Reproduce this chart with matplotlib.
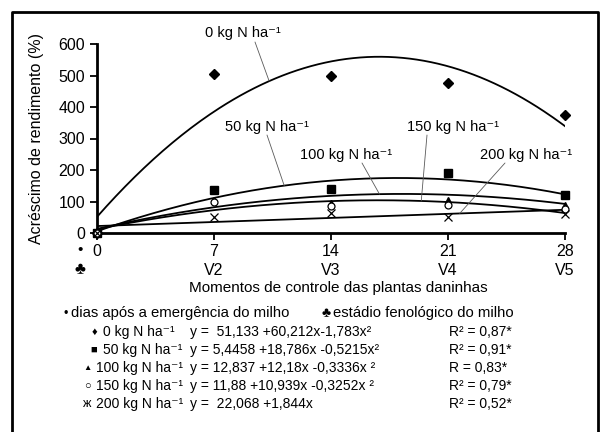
import numpy as np
import matplotlib
matplotlib.use("Agg")
import matplotlib.pyplot as plt
from matplotlib.lines import Line2D

plt.rcParams['font.family'] = ['Liberation Sans', 'DejaVu Sans']
plt.rcParams['mathtext.default'] = 'regular'

# data
days = [0, 7, 14, 21, 28]
stages = ['', 'V2', 'V3', 'V4', 'V5']
doses = ['0', '50', '100', '150', '200']
y_0 = [0, 505, 500, 475, 375]
y_50 = [0, 135, 140, 190, 120]
y_100 = [0, 105, 95, 105, 90]
y_150 = [0, 100, 85, 90, 75]
y_200 = [0, 50, 65, 50, 60]

# regression coefficients (a, b, c) -> y = a + b x + c x^2
coef_0 = [51.133, 60.212, -1.783]
coef_50 = [5.4458, 18.786, -0.5215]
coef_100 = [12.837, 12.18, -0.3336]
coef_150 = [11.88, 10.939, -0.3252]
coef_200 = [22.068, 1.844, 0.0]

equations = ['y =  51,133 +60,212x-1,783x\u00b2',
             'y = 5,4458 +18,786x -0,5215x\u00b2',
             'y = 12,837 +12,18x -0,3336x \u00b2',
             'y = 11,88 +10,939x -0,3252x \u00b2',
             'y =  22,068 +1,844x']
r2 = ['R\u00b2 = 0,87*', 'R\u00b2 = 0,91*', 'R = 0,83*', 'R\u00b2 = 0,79*', 'R\u00b2 = 0,52*']
legend_syms = ['\u2666', '\u25a0', '\u25b2', '\u25cb', '\u0436']
HA = 'ha\u207b\u00b9'

W, H = 600, 432
fig = plt.figure(figsize=(6, 4.32), dpi=100)


def px(x, y):
    return x / W, 1 - y / H


ax = fig.add_axes([97 / W, 1 - 233 / H, 468 / W, 189 / H])

series = [y_0, y_50, y_100, y_150, y_200]
coefs = [coef_0, coef_50, coef_100, coef_150, coef_200]
markers = [dict(marker='D', ms=5, mfc='k', mec='k'),
           dict(marker='s', ms=5.5, mfc='k', mec='k'),
           dict(marker='^', ms=5, mfc='k', mec='k'),
           dict(marker='o', ms=5, mfc='white', mec='k', mew=0.9),
           dict(marker='x', ms=6, mec='k', mew=0.9)]

xx = np.linspace(0, 28, 200)
for vals, c, m in zip(series, coefs, markers):
    fit = c[0] + c[1] * xx + c[2] * xx ** 2
    ax.plot(xx, fit, color='k', lw=1.3, zorder=2)
    ax.plot(days, vals, ls='none', zorder=3, clip_on=False, **m)

ax.set_xlim(0, 28)
ax.set_ylim(0, 600)
ax.set_yticks(range(0, 601, 100))
ax.set_xticks(days)
ax.set_xticklabels([f'{d}\n{s}' for d, s in zip(days, stages)])
for t in ax.get_xticklabels():
    t.set_linespacing(1.3)
    t.set_verticalalignment('top')
ax.tick_params(axis='both', labelsize=11.5, width=1.3, length=5, direction='out')
ax.tick_params(axis='x', pad=3)
for s in ['top', 'right']:
    ax.spines[s].set_visible(False)
for s in ['left', 'bottom']:
    ax.spines[s].set_linewidth(2)
ax.set_ylabel('Acréscimo de rendimento (%)', fontsize=11.5)
ax.yaxis.set_label_coords(-53 / 468, 0.5)
ax.set_xlabel('Momentos de controle das plantas daninhas', fontsize=11)
ax.xaxis.set_label_coords(0.515, -48 / 189)

fig.text(*px(80, 250), '\u2022', fontsize=11, ha='center', va='center')
fig.text(*px(80, 270), '\u2663', fontsize=12, ha='center', va='center')

# curve labels with leader lines
lab_pos = [(243, 33), (267, 127), (346, 155), (453, 127), (526, 155)]
lead_start = [(255, 42), (267, 135), (362, 163), (427, 135), (505, 163)]
lead_day = [10.3, 11.2, 16.9, 19.4, 21.7]
for d, c, p, st, ld in zip(doses, coefs, lab_pos, lead_start, lead_day):
    fig.text(*px(*p), f'{d} kg N {HA}', fontsize=10.5, ha='center', va='center')
    yv = c[0] + c[1] * ld + c[2] * ld ** 2
    ax.annotate('', xy=(ld, yv), xytext=(st[0], H - st[1]), textcoords='figure pixels',
                arrowprops=dict(arrowstyle='-', lw=0.6, color='0.35', shrinkA=0, shrinkB=0))

# legend block
fig.text(*px(66, 314), '\u2022', fontsize=9, ha='center', va='center')
fig.text(*px(71, 313), 'dias após a emergência do milho', fontsize=10.7, va='center')
fig.text(*px(326, 313), '\u2663', fontsize=10, ha='center', va='center')
fig.text(*px(333, 313), 'estádio fenológico do milho', fontsize=10.7, va='center')
row_y = [332, 350, 368, 386, 404]
sym_size = [8, 8, 6, 8, 9]
name_x = [103, 103, 96, 96, 96]
for i in range(5):
    y = row_y[i]
    fig.text(*px(name_x[i] - 9, y), legend_syms[i], fontsize=sym_size[i], ha='center', va='center')
    fig.text(*px(name_x[i], y), f'{doses[i]} kg N {HA}', fontsize=10, va='center')
    fig.text(*px(190, y), equations[i], fontsize=10, va='center')
    fig.text(*px(449, y), r2[i], fontsize=10, va='center')

# frame around the figure (open at the bottom)
fx = [12 / W, 12 / W, 598 / W, 598 / W]
fy = [0, 1 - 12 / H, 1 - 12 / H, 0]
fig.add_artist(Line2D(fx, fy, color='k', lw=2, transform=fig.transFigure))

fig.savefig('out.png', dpi=100)
